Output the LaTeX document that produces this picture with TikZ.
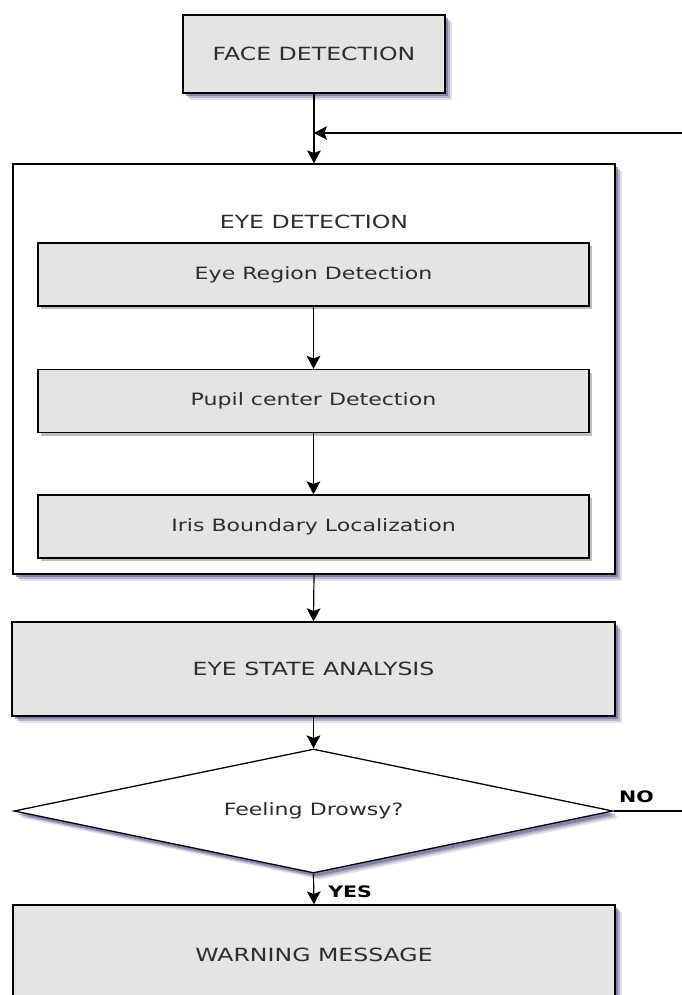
\documentclass[tikz,border=0pt]{standalone}
\usepackage{fontspec}
\setmainfont{DejaVu Sans}[FakeStretch=1.3]
\usetikzlibrary{shapes.geometric,shadows,arrows.meta}
\definecolor{boxfill}{RGB}{228,228,228}
\definecolor{txtcol}{RGB}{45,45,45}
\definecolor{blueshadow}{RGB}{100,100,145}
\definecolor{greyshadow}{RGB}{190,190,190}
\begin{document}
\begin{tikzpicture}[x=0.3mm,y=-0.3mm,
  txt/.style={font=\fontsize{14.5}{17}\selectfont, text=txtcol},
  captxt/.style={font=\fontsize{15.5}{18}\selectfont, text=txtcol},
  lbl/.style={font=\bfseries\fontsize{13.5}{16}\selectfont, text=black},
  bshadow/.style={drop shadow={shadow xshift=2.0mm, shadow yshift=-2.0mm, fill=blueshadow, opacity=0.2},
                  drop shadow={shadow xshift=1.5mm, shadow yshift=-1.5mm, fill=blueshadow, opacity=0.35},
                  drop shadow={shadow xshift=1.0mm, shadow yshift=-1.0mm, fill=blueshadow, opacity=0.6}},
  gshadow/.style={drop shadow={shadow xshift=0.9mm, shadow yshift=-0.9mm, fill=greyshadow, opacity=1}},
  mainbox/.style={draw=black, line width=1.1pt, fill=boxfill, inner sep=0pt, bshadow, captxt},
  innerbox/.style={draw=black, line width=1.1pt, fill=boxfill, inner sep=0pt, gshadow, txt,
                   minimum width=165.3mm, minimum height=18.9mm},
  arr/.style={-{Stealth[length=3.9mm,width=4.1mm,inset=0.8mm]}, line width=1pt, draw=black}
]
\useasboundingbox (0,0) rectangle (682,995);
\clip (0,0) rectangle (682,995);
\fill[white] (0,0) rectangle (682,995);

% Face detection
\node[mainbox, minimum width=78.6mm, minimum height=23.4mm] (face) at (314,54) {FACE DETECTION};

% Eye detection container
\node[draw=black, line width=1.1pt, fill=white, bshadow, inner sep=0pt,
      minimum width=180.6mm, minimum height=123mm] (cont) at (314,369) {};
\node[captxt] (edlabel) at (314,222) {EYE DETECTION};

\node[innerbox] (region) at (313.5,274.5) {Eye Region Detection};
\node[innerbox] (pupil) at (313.5,401) {Pupil center Detection};
\node[innerbox] (iris) at (313.5,526.5) {Iris Boundary Localization};

% Eye state analysis
\node[mainbox, minimum width=180.9mm, minimum height=28.2mm] (state) at (313.5,669) {EYE STATE ANALYSIS};

% Decision
\node[diamond, shape aspect=4.8, draw=black, line width=1.1pt, fill=white, bshadow, inner sep=0pt, txt,
      minimum width=179.7mm, minimum height=37.2mm] (dec) at (313.5,811) {Feeling Drowsy?};

% Warning
\node[mainbox, minimum width=180.6mm, minimum height=36mm] (warn) at (314,965) {};
\node[captxt] (warntxt) at (314,955) {WARNING MESSAGE};

% Connectors
\coordinate (fbstart) at (690,133);
\coordinate (fbend) at (314,133);
\coordinate (noend) at (690,811);

\draw[arr] (face.south) -- (cont.north);
\draw[arr] (fbstart) -- (fbend);
\draw[arr] (region.south) -- (pupil.north);
\draw[arr] (pupil.south) -- (iris.north);
\draw[arr] (cont.south) -- (state.north);
\draw[arr] (state.south) -- (dec.north);
\draw[arr] (dec.south) -- node[lbl, right=3mm, pos=0.6] (yes) {YES} (warn.north);
\draw[line width=1pt] (dec.east) -- node[lbl, above=1mm, pos=0.3] (no) {NO} (noend);
\end{tikzpicture}
\end{document}
